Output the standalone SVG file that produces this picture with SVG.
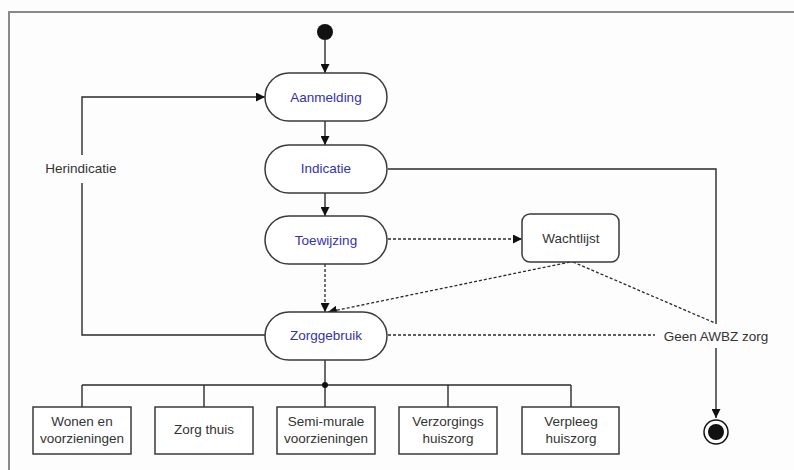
<svg xmlns="http://www.w3.org/2000/svg" width="794" height="470" viewBox="0 0 794 470">
  <style>
    .txt { font-family: "Liberation Sans", Arial, sans-serif; font-size: 13.5px; text-anchor: middle; dominant-baseline: central; }
    .state { fill: #ffffff; stroke: #3a3a3a; stroke-width: 1.5; }
    .state-label { fill: #3333aa; }
    .plain-label { fill: #333333; }
    .flow { fill: none; stroke: #2a2a2a; stroke-width: 1.4; }
    .dashed { fill: none; stroke: #2a2a2a; stroke-width: 1.3; stroke-dasharray: 3 2; }
  </style>
  <defs>
    <marker id="arrow" viewBox="0 0 10 10" refX="10" refY="5" markerWidth="9" markerHeight="9" markerUnits="userSpaceOnUse" orient="auto">
      <path d="M0,0 L10,5 L0,10 Z" fill="#111111"/>
    </marker>
  </defs>

  <rect x="0" y="0" width="794" height="470" fill="#fdfdfd"/>
  <!-- frame -->
  <rect x="9" y="12" width="800" height="480" fill="none" stroke="#8a8a8a" stroke-width="2"/>

  <!-- connectors -->
  <g id="connectors">
    <line class="flow" x1="325" y1="40" x2="325" y2="73" marker-end="url(#arrow)"/>
    <line class="flow" x1="325" y1="121" x2="325" y2="145" marker-end="url(#arrow)"/>
    <line class="flow" x1="325" y1="193" x2="325" y2="216" marker-end="url(#arrow)"/>
    <line class="dashed" x1="325" y1="264" x2="325" y2="312" marker-end="url(#arrow)"/>
    <!-- Herindicatie loop -->
    <polyline class="flow" points="265,335 82,335 82,183"/>
    <polyline class="flow" points="82,155 82,97 265,97" marker-end="url(#arrow)"/>
    <!-- Indicatie to end -->
    <polyline class="flow" points="388,169 716,169 716,324"/>
    <line class="flow" x1="716" y1="348" x2="716" y2="418" marker-end="url(#arrow)"/>
    <!-- Wachtlijst -->
    <line class="dashed" x1="388" y1="239" x2="522" y2="239" marker-end="url(#arrow)"/>
    <line class="dashed" x1="570" y1="262" x2="328" y2="312" marker-end="url(#arrow)"/>
    <line class="dashed" x1="573" y1="262" x2="715" y2="323"/>
    <line class="dashed" x1="388" y1="335" x2="655" y2="335"/>
    <!-- fork to care types -->
    <line class="flow" x1="325" y1="360" x2="325" y2="407"/>
    <line class="flow" x1="82" y1="385" x2="571" y2="385"/>
    <line class="flow" x1="82" y1="385" x2="82" y2="407"/>
    <line class="flow" x1="204" y1="385" x2="204" y2="407"/>
    <line class="flow" x1="448" y1="385" x2="448" y2="407"/>
    <line class="flow" x1="571" y1="385" x2="571" y2="407"/>
    <circle cx="325" cy="385" r="3" fill="#111111"/>
    <text class="txt plain-label" x="81" y="168">Herindicatie</text>
    <text class="txt plain-label" x="716" y="336">Geen AWBZ zorg</text>
  </g>

  <g id="start">
    <circle cx="325" cy="32" r="8" fill="#111111"/>
  </g>
  <g id="aanmelding">
    <rect class="state" x="265" y="73" width="122" height="48" rx="24"/>
    <text class="txt state-label" x="326" y="97">Aanmelding</text>
  </g>
  <g id="indicatie">
    <rect class="state" x="265" y="145" width="122" height="48" rx="24"/>
    <text class="txt state-label" x="326" y="168">Indicatie</text>
  </g>
  <g id="toewijzing">
    <rect class="state" x="265" y="216" width="122" height="48" rx="24"/>
    <text class="txt state-label" x="326" y="240">Toewijzing</text>
  </g>
  <g id="zorggebruik">
    <rect class="state" x="265" y="312" width="122" height="48" rx="24"/>
    <text class="txt state-label" x="326" y="335">Zorggebruik</text>
  </g>
  <g id="wachtlijst">
    <rect class="state" x="522" y="214" width="97" height="48" rx="8"/>
    <text class="txt plain-label" x="571" y="238">Wachtlijst</text>
  </g>
  <g id="end">
    <circle cx="716" cy="432" r="12" fill="#ffffff" stroke="#111111" stroke-width="1.5"/>
    <circle cx="716" cy="432" r="8" fill="#111111"/>
  </g>

  <g id="wonen">
    <rect class="state" x="33" y="407" width="98" height="47"/>
    <text class="txt plain-label" x="82" y="421">Wonen en</text>
    <text class="txt plain-label" x="82" y="438">voorzieningen</text>
  </g>
  <g id="zorg-thuis">
    <rect class="state" x="155" y="407" width="98" height="47"/>
    <text class="txt plain-label" x="204" y="429">Zorg thuis</text>
  </g>
  <g id="semi-murale">
    <rect class="state" x="277" y="407" width="98" height="47"/>
    <text class="txt plain-label" x="326" y="421">Semi-murale</text>
    <text class="txt plain-label" x="326" y="438">voorzieningen</text>
  </g>
  <g id="verzorgings">
    <rect class="state" x="399" y="407" width="98" height="47"/>
    <text class="txt plain-label" x="448" y="421">Verzorgings</text>
    <text class="txt plain-label" x="448" y="438">huiszorg</text>
  </g>
  <g id="verpleeg">
    <rect class="state" x="522" y="407" width="97" height="47"/>
    <text class="txt plain-label" x="571" y="421">Verpleeg</text>
    <text class="txt plain-label" x="571" y="438">huiszorg</text>
  </g>
</svg>
